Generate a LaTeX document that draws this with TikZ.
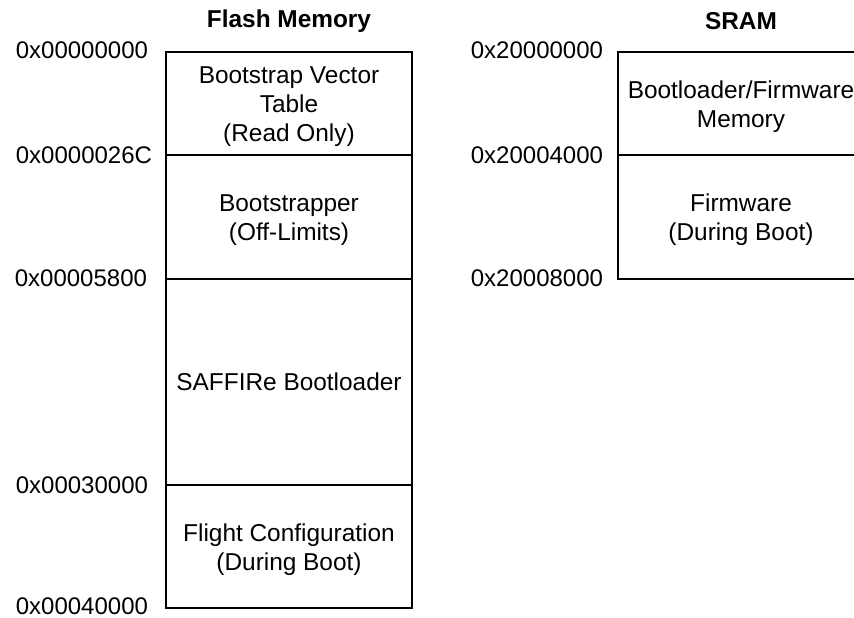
\documentclass[tikz,border=0pt]{standalone}
\usepackage{fontspec}
\setmainfont{Liberation Sans}
\begin{document}
\begin{tikzpicture}[x=1pt,y=-1pt,
  every node/.style={font=\fontsize{24.4}{29}\selectfont, inner sep=0pt, outer sep=0pt},
  region/.style={draw=black, line width=1.5pt, minimum width=246pt, anchor=north west},
  txt/.style={align=center, yshift=-3pt},
  addr/.style={anchor=east, font=\fontsize{24}{29}\selectfont},
  title/.style={font=\bfseries\fontsize{24.4}{29}\selectfont}]
\useasboundingbox (0,0) rectangle (854,618);
\begin{scope}
\clip (0,0) rectangle (854,618);
% Flash memory
\node[title] (ft) at (289,21) {Flash Memory};
\node[region, minimum height=103pt] (bvt) at (166,52) {};
\node[region, minimum height=124pt] (bs) at (166,155) {};
\node[region, minimum height=206pt] (sb) at (166,279) {};
\node[region, minimum height=123pt] (fc) at (166,485) {};
\node[txt] (bvtt) at (bvt.center) {Bootstrap Vector\\Table\\(Read Only)};
\node[txt] (bst) at (bs.center) {Bootstrapper\\(Off-Limits)};
\node (sbt) at (sb.center) {SAFFIRe Bootloader};
\node[txt] (fct) at (fc.center) {Flight Configuration\\(During Boot)};
% SRAM
\node[title] (st) at (741,21) {SRAM};
\node[region, minimum height=103pt] (bfm) at (618,52) {};
\node[region, minimum height=124pt] (fw) at (618,155) {};
\node[txt] (bfmt) at (bfm.center) {Bootloader/Firmware\\Memory};
\node[txt] (fwt) at (fw.center) {Firmware\\(During Boot)};
\end{scope}
% addresses
\node[addr] (a0) at (148,50) {0x00000000};
\node[addr] (a1) at (152,155) {0x0000026C};
\node[addr] (a2) at (147,278) {0x00005800};
\node[addr] (a3) at (148,485) {0x00030000};
\node[addr] (a4) at (148,606) {0x00040000};
\node[addr] (s0) at (603,50) {0x20000000};
\node[addr] (s1) at (603,155) {0x20004000};
\node[addr] (s2) at (603,278) {0x20008000};
\end{tikzpicture}
\end{document}
